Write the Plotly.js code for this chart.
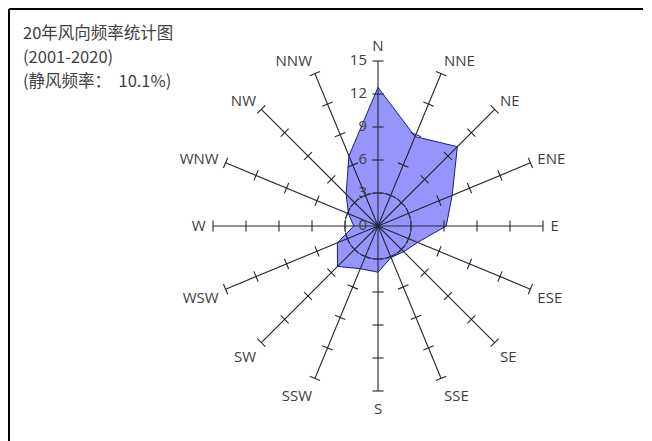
<!DOCTYPE html>
<html>
<head>
<meta charset="utf-8">
<script src="https://cdn.plot.ly/plotly-3.0.1.min.js"></script>
<style>
  html, body { margin: 0; padding: 0; background: #ffffff; }
  #chart { width: 652px; height: 441px; }
</style>
</head>
<body>
<div id="chart"></div>
<script>
// 16 compass directions, clockwise from north
const directions = ['N', 'NNE', 'NE', 'ENE', 'E', 'ESE', 'SE', 'SSE',
                    'S', 'SSW', 'SW', 'WSW', 'W', 'WNW', 'NW', 'NNW'];
// wind direction frequency (%) for each direction
const frequency = [12.6, 8.8, 10.2, 7.3, 6.2, 3.9, 3.3, 3.1,
                   4.2, 4.2, 5.2, 4.0, 2.2, 2.9, 4.1, 6.9];
// radial scale ticks (%)
const radialTicks = [0, 3, 6, 9, 12, 15];
const calmRate = 10.1;
const titleLines = ['20年风向频率统计图', '(2001-2020)', '(静风频率：  ' + calmRate + '%)'];

const W = 652, H = 441;
const step = 360 / directions.length;
const dirAngles = directions.map((d, i) => i * step);
const rMax = radialTicks[radialTicks.length - 1];
const axisColor = '#25253a';
const textColor = '#404040';
const font = '"Open Sans", "Noto Sans", sans-serif';

// filled frequency polygon
const roseTrace = {
  type: 'scatterpolar',
  r: frequency.concat([frequency[0]]),
  theta: dirAngles.concat([dirAngles[0]]),
  mode: 'lines',
  fill: 'toself',
  fillcolor: 'rgb(150,150,250)',
  line: { color: '#1c1c80', width: 1 },
  hoverinfo: 'skip'
};

// one spoke per direction, drawn above the fill
const spokeR = [], spokeT = [];
dirAngles.forEach(a => { spokeR.push(0, rMax, null); spokeT.push(a, a, null); });
const spokeTrace = {
  type: 'scatterpolar', r: spokeR, theta: spokeT, mode: 'lines',
  line: { color: axisColor, width: 1.1 }, hoverinfo: 'skip', connectgaps: false
};

// tick marks across each spoke at every radial tick value
const tickR = [], tickT = [], tickA = [];
dirAngles.forEach(a => {
  radialTicks.slice(1).forEach(v => { tickR.push(v); tickT.push(a); tickA.push(a); });
});
const tickTrace = {
  type: 'scatterpolar', r: tickR, theta: tickT, mode: 'markers',
  marker: { symbol: 'line-ew', size: 8, angle: tickA,
            line: { color: axisColor, width: 1.1 } },
  hoverinfo: 'skip'
};

// reference ring at the first radial tick
const ringT = [];
for (let a = 0; a <= 360; a += 3) ringT.push(a);
const ringTrace = {
  type: 'scatterpolar', r: ringT.map(() => radialTicks[1]), theta: ringT,
  mode: 'lines', line: { color: '#3a3a66', width: 0.8 }, hoverinfo: 'skip'
};

// radial scale labels beside the north spoke (transparent marker sets the gap)
const scaleLabels = {
  type: 'scatterpolar', r: radialTicks, theta: radialTicks.map(() => dirAngles[0]),
  mode: 'markers+text', text: radialTicks.map(v => String(v)),
  marker: { size: 16, color: 'rgba(0,0,0,0)' },
  textposition: 'middle left',
  textfont: { family: font, size: 15, color: textColor },
  hoverinfo: 'skip'
};

// three-line heading in the top-left corner
const headingY = [32, 56, 80];
const annotations = titleLines.map((t, i) => ({
  text: t, xref: 'paper', yref: 'paper',
  x: 22 / W, y: 1 - headingY[i] / H,
  xanchor: 'left', yanchor: 'middle', showarrow: false, borderpad: 0,
  font: { family: '"Noto Sans CJK SC", "Open Sans", sans-serif', size: 16.5, color: textColor }
}));

const layout = {
  width: W, height: H,
  margin: { l: 0, r: 0, t: 0, b: 0 },
  paper_bgcolor: '#ffffff',
  showlegend: false,
  polar: {
    domain: { x: [213 / W, 543 / W], y: [1 - 391 / H, 1 - 61 / H] },
    bgcolor: 'rgba(0,0,0,0)',
    angularaxis: {
      direction: 'clockwise', rotation: 90,
      tickmode: 'array', tickvals: dirAngles, ticktext: directions,
      showgrid: false, showline: false,
      ticks: 'outside', ticklen: 4, tickcolor: 'rgba(0,0,0,0)',
      tickfont: { family: font, size: 15, color: textColor }
    },
    radialaxis: {
      range: [0, rMax], angle: 90,
      showticklabels: false, showgrid: false, showline: false, ticks: ''
    }
  },
  annotations: annotations,
  shapes: [
    { type: 'line', xref: 'paper', yref: 'paper', x0: 9 / W, x1: 643 / W, y0: 1 - 9 / H, y1: 1 - 9 / H,
      line: { color: '#000000', width: 2 } },
    { type: 'line', xref: 'paper', yref: 'paper', x0: 9 / W, x1: 9 / W, y0: 1 - 9 / H, y1: 0,
      line: { color: '#000000', width: 2 } }
  ]
};

Plotly.newPlot('chart', [roseTrace, ringTrace, spokeTrace, tickTrace, scaleLabels], layout,
  { displayModeBar: false, staticPlot: true });
</script>
</body>
</html>
